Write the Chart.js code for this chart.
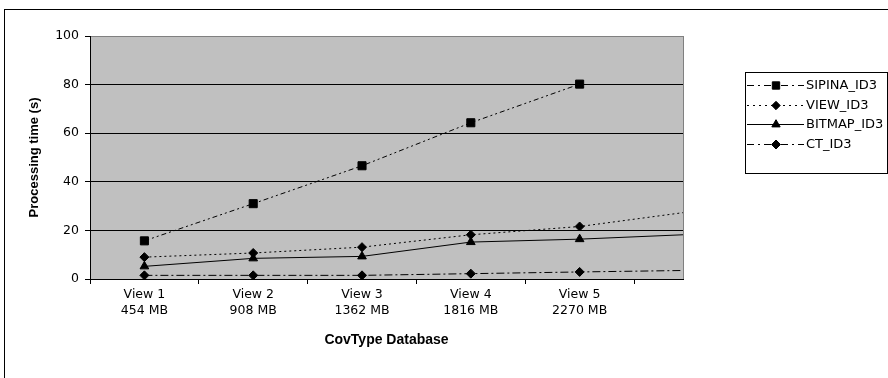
<!DOCTYPE html>
<html>
<head>
<meta charset="utf-8">
<script src="https://cdn.jsdelivr.net/npm/chart.js@4.4.1/dist/chart.umd.min.js"></script>
<style>
  html, body { margin: 0; padding: 0; background: #fff; }
  #wrap { width: 888px; height: 378px; position: relative; }
</style>
</head>
<body>
<div id="wrap"><canvas id="chart" width="888" height="378"></canvas></div>
<script>
// categories and tick labels
const viewLabels = ['View 1', 'View 2', 'View 3', 'View 4', 'View 5'];
const sizeLabels = ['454 MB', '908 MB', '1362 MB', '1816 MB', '2270 MB'];
const yTicks = [0, 20, 40, 60, 80, 100];

// processing times (s)
const sipinaTimes = [15.7, 31, 46.6, 64.3, 80.2];
const viewTimes = [9, 10.7, 13.1, 18.2, 21.6];
const bitmapTimes = [5.2, 8.5, 9.3, 15.2, 16.4];
const ctTimes = [1.5, 1.5, 1.5, 2.2, 2.9];

// where each line runs off the right edge of the plot (no marker there)
const viewEdge = [27.3];
const bitmapEdge = [18.2];
const ctEdge = [3.5];

const xMin = 0.5;
const xMax = 5.95;

function toPoints(values, edge) {
  const pts = values.map((v, i) => ({ x: i + 1, y: v }));
  edge.forEach(v => pts.push({ x: xMax, y: v }));
  return pts;
}

function markerSize(r) {
  return ctx => (ctx.dataIndex >= viewLabels.length ? 0 : r);
}

const plotBackground = {
  id: 'plotBackground',
  beforeDraw(chart) {
    const { ctx, chartArea: a } = chart;
    ctx.save();
    ctx.fillStyle = '#c0c0c0';
    ctx.fillRect(a.left, a.top, a.right - a.left, a.bottom - a.top);
    // outer frame of the figure
    ctx.strokeStyle = '#000';
    ctx.lineWidth = 1;
    ctx.strokeRect(4.5, 9.5, 1000, 1000);
    ctx.restore();
  }
};

// boxed legend with line samples, drawn from the dataset styles
const boxLegend = {
  id: 'boxLegend',
  afterDraw(chart) {
    const ctx = chart.ctx;
    ctx.save();
    ctx.strokeStyle = '#000';
    ctx.lineWidth = 1;
    ctx.strokeRect(745.5, 72.5, 142, 101);
    ctx.font = '13px "DejaVu Sans", sans-serif';
    ctx.textBaseline = 'middle';
    chart.data.datasets.forEach((ds, i) => {
      const y = Math.round(85 + i * 19.7) + 0.5;
      ctx.strokeStyle = '#000';
      ctx.setLineDash(ds.legendDash || []);
      ctx.beginPath();
      ctx.moveTo(747, y);
      ctx.lineTo(804, y);
      ctx.stroke();
      ctx.setLineDash([]);
      Chart.helpers.drawPoint(ctx, {
        pointStyle: ds.pointStyle,
        radius: ds.legendRadius,
        borderWidth: 1
      }, 776, y);
      ctx.fillStyle = '#000';
      ctx.fillText(ds.label, 806, y);
    });
    ctx.restore();
  }
};

const tickFont = { family: '"DejaVu Sans", sans-serif', size: 12.5, lineHeight: 1.25 };

new Chart(document.getElementById('chart').getContext('2d'), {
  type: 'line',
  data: {
    datasets: [
      {
        label: 'SIPINA_ID3',
        data: toPoints(sipinaTimes, []),
        borderColor: '#000',
        backgroundColor: '#000',
        borderWidth: 1,
        borderDash: [5, 3, 2, 3, 2, 3],
        legendDash: [7, 4, 2, 4],
        pointStyle: 'rect',
        pointRadius: markerSize(5.7),
        legendRadius: 5.2
      },
      {
        label: 'VIEW_ID3',
        data: toPoints(viewTimes, viewEdge),
        borderColor: '#000',
        backgroundColor: '#000',
        borderWidth: 1,
        borderDash: [2, 3],
        legendDash: [2, 4],
        pointStyle: 'rectRot',
        pointRadius: markerSize(4.5),
        legendRadius: 4.2
      },
      {
        label: 'BITMAP_ID3',
        data: toPoints(bitmapTimes, bitmapEdge),
        borderColor: '#000',
        backgroundColor: '#000',
        borderWidth: 1,
        pointStyle: 'triangle',
        pointRadius: markerSize(5),
        legendRadius: 4.8
      },
      {
        label: 'CT_ID3',
        data: toPoints(ctTimes, ctEdge),
        borderColor: '#000',
        backgroundColor: '#000',
        borderWidth: 1,
        borderDash: [8, 3, 2, 3],
        legendDash: [7, 4, 2, 4],
        pointStyle: 'rectRot',
        pointRadius: markerSize(4.5),
        legendRadius: 4.5
      }
    ]
  },
  options: {
    responsive: false,
    animation: false,
    layout: { padding: { left: 0, top: 36, right: 205, bottom: 0 } },
    plugins: {
      legend: { display: false },
      tooltip: { enabled: false }
    },
    elements: { line: { tension: 0 } },
    scales: {
      x: {
        type: 'linear',
        min: xMin,
        max: xMax,
        afterFit: scale => { scale.height = 99; },
        ticks: {
          stepSize: 0.5,
          autoSkip: false,
          maxRotation: 0,
          padding: 3,
          color: '#000',
          font: tickFont,
          callback: v => {
            const i = Math.round(v) - 1;
            if (Math.abs(v - Math.round(v)) > 0.01 || i < 0 || i >= viewLabels.length) return '';
            return [viewLabels[i], sizeLabels[i]];
          }
        },
        grid: {
          drawOnChartArea: true,
          tickLength: 5,
          color: c => (c.tick && Math.abs(c.tick.value - xMax) < 0.01 ? '#808080' : 'rgba(0,0,0,0)'),
          tickColor: c => {
            const v = c.tick ? c.tick.value : 0;
            return Math.abs(v * 2 - Math.round(v * 2)) < 0.01 && Math.round(v * 2) % 2 === 1 ? '#000' : 'rgba(0,0,0,0)';
          }
        },
        border: { color: '#000', width: 1 },
        title: {
          display: true,
          text: 'CovType Database',
          color: '#000',
          font: { family: '"Liberation Sans", Arial, sans-serif', size: 14, weight: 'bold', lineHeight: 1.2 },
          padding: { top: 0, bottom: 29 }
        }
      },
      y: {
        min: 0,
        max: 100,
        afterFit: scale => { scale.width = 90; },
        afterBuildTicks: scale => { scale.ticks = yTicks.map(v => ({ value: v })); },
        ticks: {
          padding: 6,
          color: '#000',
          font: { family: '"DejaVu Sans", sans-serif', size: 12.5 }
        },
        grid: {
          tickLength: 5,
          color: c => (c.tick && c.tick.value === 100 ? '#808080' : '#000'),
          tickColor: '#000'
        },
        border: { color: '#000', width: 1 },
        title: {
          display: true,
          text: 'Processing time (s)',
          color: '#000',
          font: { family: '"Liberation Sans", Arial, sans-serif', size: 13, weight: 'bold', lineHeight: 1.2 },
          padding: { top: 27, bottom: 0 }
        }
      }
    }
  },
  plugins: [plotBackground, boxLegend]
});
</script>
</body>
</html>
